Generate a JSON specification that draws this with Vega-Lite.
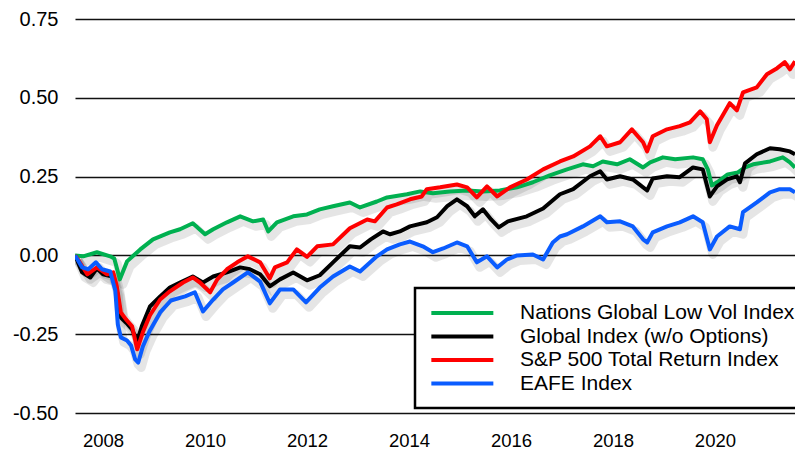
{
 "$schema": "https://vega.github.io/schema/vega-lite/v6.json",
 "width": 720, "height": 394,
 "autosize": {"type": "none"},
 "padding": {"left": 75, "top": 19, "right": 0, "bottom": 37},
 "background": "white",
 "config": {"view": {"stroke": null}, "font": "Liberation Sans"},
 "datasets": {
  "raw": [
   {"s":"Nations Global Low Vol Index","t":2007.45,"v":0},{"s":"Nations Global Low Vol Index","t":2007.61,"v":-0.003},{"s":"Nations Global Low Vol Index","t":2007.88,"v":0.010},{"s":"Nations Global Low Vol Index","t":2008.14,"v":-0.003},{"s":"Nations Global Low Vol Index","t":2008.22,"v":-0.010},{"s":"Nations Global Low Vol Index","t":2008.33,"v":-0.076},{"s":"Nations Global Low Vol Index","t":2008.47,"v":-0.019},{"s":"Nations Global Low Vol Index","t":2008.73,"v":0.019},{"s":"Nations Global Low Vol Index","t":2008.98,"v":0.051},{"s":"Nations Global Low Vol Index","t":2009.31,"v":0.073},{"s":"Nations Global Low Vol Index","t":2009.51,"v":0.083},{"s":"Nations Global Low Vol Index","t":2009.76,"v":0.102},{"s":"Nations Global Low Vol Index","t":2010.00,"v":0.067},{"s":"Nations Global Low Vol Index","t":2010.16,"v":0.083},{"s":"Nations Global Low Vol Index","t":2010.43,"v":0.105},{"s":"Nations Global Low Vol Index","t":2010.69,"v":0.124},{"s":"Nations Global Low Vol Index","t":2010.94,"v":0.108},{"s":"Nations Global Low Vol Index","t":2011.14,"v":0.114},{"s":"Nations Global Low Vol Index","t":2011.24,"v":0.076},{"s":"Nations Global Low Vol Index","t":2011.41,"v":0.105},{"s":"Nations Global Low Vol Index","t":2011.73,"v":0.124},{"s":"Nations Global Low Vol Index","t":2012.00,"v":0.130},{"s":"Nations Global Low Vol Index","t":2012.25,"v":0.146},{"s":"Nations Global Low Vol Index","t":2012.51,"v":0.156},{"s":"Nations Global Low Vol Index","t":2012.84,"v":0.168},{"s":"Nations Global Low Vol Index","t":2013.04,"v":0.152},{"s":"Nations Global Low Vol Index","t":2013.37,"v":0.171},{"s":"Nations Global Low Vol Index","t":2013.57,"v":0.184},{"s":"Nations Global Low Vol Index","t":2013.96,"v":0.194},{"s":"Nations Global Low Vol Index","t":2014.22,"v":0.203},{"s":"Nations Global Low Vol Index","t":2014.47,"v":0.197},{"s":"Nations Global Low Vol Index","t":2014.80,"v":0.203},{"s":"Nations Global Low Vol Index","t":2015.14,"v":0.206},{"s":"Nations Global Low Vol Index","t":2015.45,"v":0.203},{"s":"Nations Global Low Vol Index","t":2015.78,"v":0.206},{"s":"Nations Global Low Vol Index","t":2016.12,"v":0.216},{"s":"Nations Global Low Vol Index","t":2016.43,"v":0.232},{"s":"Nations Global Low Vol Index","t":2016.76,"v":0.254},{"s":"Nations Global Low Vol Index","t":2017.10,"v":0.273},{"s":"Nations Global Low Vol Index","t":2017.41,"v":0.289},{"s":"Nations Global Low Vol Index","t":2017.61,"v":0.283},{"s":"Nations Global Low Vol Index","t":2017.80,"v":0.298},{"s":"Nations Global Low Vol Index","t":2018.08,"v":0.289},{"s":"Nations Global Low Vol Index","t":2018.33,"v":0.305},{"s":"Nations Global Low Vol Index","t":2018.59,"v":0.279},{"s":"Nations Global Low Vol Index","t":2018.73,"v":0.295},{"s":"Nations Global Low Vol Index","t":2018.98,"v":0.311},{"s":"Nations Global Low Vol Index","t":2019.22,"v":0.305},{"s":"Nations Global Low Vol Index","t":2019.57,"v":0.311},{"s":"Nations Global Low Vol Index","t":2019.76,"v":0.305},{"s":"Nations Global Low Vol Index","t":2019.86,"v":0.273},{"s":"Nations Global Low Vol Index","t":2019.94,"v":0.222},{"s":"Nations Global Low Vol Index","t":2020.04,"v":0.232},{"s":"Nations Global Low Vol Index","t":2020.25,"v":0.257},{"s":"Nations Global Low Vol Index","t":2020.45,"v":0.263},{"s":"Nations Global Low Vol Index","t":2020.59,"v":0.279},{"s":"Nations Global Low Vol Index","t":2020.75,"v":0.289},{"s":"Nations Global Low Vol Index","t":2021.08,"v":0.298},{"s":"Nations Global Low Vol Index","t":2021.33,"v":0.311},{"s":"Nations Global Low Vol Index","t":2021.47,"v":0.295},{"s":"Nations Global Low Vol Index","t":2021.57,"v":0.279},
   {"s":"Global Index (w/o Options)","t":2007.45,"v":0},{"s":"Global Index (w/o Options)","t":2007.59,"v":-0.054},{"s":"Global Index (w/o Options)","t":2007.75,"v":-0.070},{"s":"Global Index (w/o Options)","t":2007.88,"v":-0.041},{"s":"Global Index (w/o Options)","t":2008.00,"v":-0.060},{"s":"Global Index (w/o Options)","t":2008.18,"v":-0.067},{"s":"Global Index (w/o Options)","t":2008.27,"v":-0.111},{"s":"Global Index (w/o Options)","t":2008.35,"v":-0.197},{"s":"Global Index (w/o Options)","t":2008.45,"v":-0.213},{"s":"Global Index (w/o Options)","t":2008.57,"v":-0.235},{"s":"Global Index (w/o Options)","t":2008.67,"v":-0.273},{"s":"Global Index (w/o Options)","t":2008.76,"v":-0.225},{"s":"Global Index (w/o Options)","t":2008.92,"v":-0.162},{"s":"Global Index (w/o Options)","t":2009.12,"v":-0.130},{"s":"Global Index (w/o Options)","t":2009.31,"v":-0.102},{"s":"Global Index (w/o Options)","t":2009.51,"v":-0.086},{"s":"Global Index (w/o Options)","t":2009.76,"v":-0.067},{"s":"Global Index (w/o Options)","t":2009.96,"v":-0.086},{"s":"Global Index (w/o Options)","t":2010.16,"v":-0.067},{"s":"Global Index (w/o Options)","t":2010.43,"v":-0.054},{"s":"Global Index (w/o Options)","t":2010.69,"v":-0.038},{"s":"Global Index (w/o Options)","t":2010.88,"v":-0.044},{"s":"Global Index (w/o Options)","t":2011.08,"v":-0.060},{"s":"Global Index (w/o Options)","t":2011.27,"v":-0.098},{"s":"Global Index (w/o Options)","t":2011.47,"v":-0.076},{"s":"Global Index (w/o Options)","t":2011.73,"v":-0.054},{"s":"Global Index (w/o Options)","t":2012.00,"v":-0.079},{"s":"Global Index (w/o Options)","t":2012.25,"v":-0.063},{"s":"Global Index (w/o Options)","t":2012.51,"v":-0.022},{"s":"Global Index (w/o Options)","t":2012.84,"v":0.029},{"s":"Global Index (w/o Options)","t":2013.04,"v":0.025},{"s":"Global Index (w/o Options)","t":2013.25,"v":0.051},{"s":"Global Index (w/o Options)","t":2013.49,"v":0.076},{"s":"Global Index (w/o Options)","t":2013.63,"v":0.067},{"s":"Global Index (w/o Options)","t":2013.82,"v":0.076},{"s":"Global Index (w/o Options)","t":2014.02,"v":0.092},{"s":"Global Index (w/o Options)","t":2014.35,"v":0.105},{"s":"Global Index (w/o Options)","t":2014.55,"v":0.121},{"s":"Global Index (w/o Options)","t":2014.75,"v":0.156},{"s":"Global Index (w/o Options)","t":2014.94,"v":0.178},{"s":"Global Index (w/o Options)","t":2015.14,"v":0.156},{"s":"Global Index (w/o Options)","t":2015.29,"v":0.124},{"s":"Global Index (w/o Options)","t":2015.45,"v":0.146},{"s":"Global Index (w/o Options)","t":2015.61,"v":0.114},{"s":"Global Index (w/o Options)","t":2015.76,"v":0.089},{"s":"Global Index (w/o Options)","t":2015.94,"v":0.108},{"s":"Global Index (w/o Options)","t":2016.31,"v":0.124},{"s":"Global Index (w/o Options)","t":2016.63,"v":0.149},{"s":"Global Index (w/o Options)","t":2016.96,"v":0.194},{"s":"Global Index (w/o Options)","t":2017.22,"v":0.210},{"s":"Global Index (w/o Options)","t":2017.55,"v":0.251},{"s":"Global Index (w/o Options)","t":2017.75,"v":0.267},{"s":"Global Index (w/o Options)","t":2017.88,"v":0.241},{"s":"Global Index (w/o Options)","t":2018.14,"v":0.251},{"s":"Global Index (w/o Options)","t":2018.39,"v":0.241},{"s":"Global Index (w/o Options)","t":2018.67,"v":0.206},{"s":"Global Index (w/o Options)","t":2018.78,"v":0.244},{"s":"Global Index (w/o Options)","t":2019.06,"v":0.251},{"s":"Global Index (w/o Options)","t":2019.31,"v":0.248},{"s":"Global Index (w/o Options)","t":2019.57,"v":0.279},{"s":"Global Index (w/o Options)","t":2019.76,"v":0.273},{"s":"Global Index (w/o Options)","t":2019.90,"v":0.187},{"s":"Global Index (w/o Options)","t":2020.04,"v":0.219},{"s":"Global Index (w/o Options)","t":2020.24,"v":0.241},{"s":"Global Index (w/o Options)","t":2020.43,"v":0.251},{"s":"Global Index (w/o Options)","t":2020.49,"v":0.232},{"s":"Global Index (w/o Options)","t":2020.59,"v":0.292},{"s":"Global Index (w/o Options)","t":2020.82,"v":0.321},{"s":"Global Index (w/o Options)","t":2021.08,"v":0.340},{"s":"Global Index (w/o Options)","t":2021.27,"v":0.337},{"s":"Global Index (w/o Options)","t":2021.47,"v":0.330},{"s":"Global Index (w/o Options)","t":2021.57,"v":0.321},
   {"s":"S&P 500 Total Return Index","t":2007.45,"v":0},{"s":"S&P 500 Total Return Index","t":2007.51,"v":-0.013},{"s":"S&P 500 Total Return Index","t":2007.69,"v":-0.060},{"s":"S&P 500 Total Return Index","t":2007.88,"v":-0.038},{"s":"S&P 500 Total Return Index","t":2008.08,"v":-0.060},{"s":"S&P 500 Total Return Index","t":2008.20,"v":-0.054},{"s":"S&P 500 Total Return Index","t":2008.27,"v":-0.098},{"s":"S&P 500 Total Return Index","t":2008.35,"v":-0.181},{"s":"S&P 500 Total Return Index","t":2008.45,"v":-0.203},{"s":"S&P 500 Total Return Index","t":2008.57,"v":-0.225},{"s":"S&P 500 Total Return Index","t":2008.67,"v":-0.298},{"s":"S&P 500 Total Return Index","t":2008.78,"v":-0.244},{"s":"S&P 500 Total Return Index","t":2008.92,"v":-0.190},{"s":"S&P 500 Total Return Index","t":2009.12,"v":-0.140},{"s":"S&P 500 Total Return Index","t":2009.31,"v":-0.114},{"s":"S&P 500 Total Return Index","t":2009.57,"v":-0.086},{"s":"S&P 500 Total Return Index","t":2009.76,"v":-0.070},{"s":"S&P 500 Total Return Index","t":2009.90,"v":-0.086},{"s":"S&P 500 Total Return Index","t":2010.10,"v":-0.117},{"s":"S&P 500 Total Return Index","t":2010.24,"v":-0.076},{"s":"S&P 500 Total Return Index","t":2010.43,"v":-0.044},{"s":"S&P 500 Total Return Index","t":2010.63,"v":-0.022},{"s":"S&P 500 Total Return Index","t":2010.84,"v":-0.003},{"s":"S&P 500 Total Return Index","t":2011.08,"v":-0.022},{"s":"S&P 500 Total Return Index","t":2011.27,"v":-0.073},{"s":"S&P 500 Total Return Index","t":2011.37,"v":-0.038},{"s":"S&P 500 Total Return Index","t":2011.61,"v":-0.022},{"s":"S&P 500 Total Return Index","t":2011.80,"v":0.019},{"s":"S&P 500 Total Return Index","t":2012.00,"v":-0.005},{"s":"S&P 500 Total Return Index","t":2012.20,"v":0.029},{"s":"S&P 500 Total Return Index","t":2012.51,"v":0.035},{"s":"S&P 500 Total Return Index","t":2012.84,"v":0.086},{"s":"S&P 500 Total Return Index","t":2013.18,"v":0.114},{"s":"S&P 500 Total Return Index","t":2013.33,"v":0.108},{"s":"S&P 500 Total Return Index","t":2013.57,"v":0.152},{"s":"S&P 500 Total Return Index","t":2013.76,"v":0.162},{"s":"S&P 500 Total Return Index","t":2014.02,"v":0.178},{"s":"S&P 500 Total Return Index","t":2014.25,"v":0.187},{"s":"S&P 500 Total Return Index","t":2014.35,"v":0.210},{"s":"S&P 500 Total Return Index","t":2014.61,"v":0.216},{"s":"S&P 500 Total Return Index","t":2014.94,"v":0.225},{"s":"S&P 500 Total Return Index","t":2015.14,"v":0.216},{"s":"S&P 500 Total Return Index","t":2015.33,"v":0.184},{"s":"S&P 500 Total Return Index","t":2015.53,"v":0.219},{"s":"S&P 500 Total Return Index","t":2015.73,"v":0.187},{"s":"S&P 500 Total Return Index","t":2015.98,"v":0.216},{"s":"S&P 500 Total Return Index","t":2016.31,"v":0.241},{"s":"S&P 500 Total Return Index","t":2016.63,"v":0.273},{"s":"S&P 500 Total Return Index","t":2016.96,"v":0.298},{"s":"S&P 500 Total Return Index","t":2017.22,"v":0.314},{"s":"S&P 500 Total Return Index","t":2017.55,"v":0.346},{"s":"S&P 500 Total Return Index","t":2017.75,"v":0.378},{"s":"S&P 500 Total Return Index","t":2017.88,"v":0.346},{"s":"S&P 500 Total Return Index","t":2018.14,"v":0.359},{"s":"S&P 500 Total Return Index","t":2018.37,"v":0.400},{"s":"S&P 500 Total Return Index","t":2018.59,"v":0.359},{"s":"S&P 500 Total Return Index","t":2018.67,"v":0.330},{"s":"S&P 500 Total Return Index","t":2018.78,"v":0.378},{"s":"S&P 500 Total Return Index","t":2019.06,"v":0.400},{"s":"S&P 500 Total Return Index","t":2019.31,"v":0.410},{"s":"S&P 500 Total Return Index","t":2019.51,"v":0.422},{"s":"S&P 500 Total Return Index","t":2019.71,"v":0.457},{"s":"S&P 500 Total Return Index","t":2019.84,"v":0.432},{"s":"S&P 500 Total Return Index","t":2019.90,"v":0.359},{"s":"S&P 500 Total Return Index","t":2020.04,"v":0.413},{"s":"S&P 500 Total Return Index","t":2020.29,"v":0.483},{"s":"S&P 500 Total Return Index","t":2020.43,"v":0.460},{"s":"S&P 500 Total Return Index","t":2020.55,"v":0.517},{"s":"S&P 500 Total Return Index","t":2020.82,"v":0.533},{"s":"S&P 500 Total Return Index","t":2021.02,"v":0.575},{"s":"S&P 500 Total Return Index","t":2021.22,"v":0.594},{"s":"S&P 500 Total Return Index","t":2021.37,"v":0.613},{"s":"S&P 500 Total Return Index","t":2021.47,"v":0.590},{"s":"S&P 500 Total Return Index","t":2021.57,"v":0.616},
   {"s":"EAFE Index","t":2007.45,"v":0},{"s":"EAFE Index","t":2007.59,"v":-0.038},{"s":"EAFE Index","t":2007.71,"v":-0.044},{"s":"EAFE Index","t":2007.86,"v":-0.022},{"s":"EAFE Index","t":2007.98,"v":-0.044},{"s":"EAFE Index","t":2008.14,"v":-0.051},{"s":"EAFE Index","t":2008.24,"v":-0.111},{"s":"EAFE Index","t":2008.29,"v":-0.219},{"s":"EAFE Index","t":2008.35,"v":-0.260},{"s":"EAFE Index","t":2008.47,"v":-0.270},{"s":"EAFE Index","t":2008.55,"v":-0.286},{"s":"EAFE Index","t":2008.63,"v":-0.330},{"s":"EAFE Index","t":2008.69,"v":-0.340},{"s":"EAFE Index","t":2008.78,"v":-0.289},{"s":"EAFE Index","t":2008.92,"v":-0.238},{"s":"EAFE Index","t":2009.12,"v":-0.181},{"s":"EAFE Index","t":2009.33,"v":-0.143},{"s":"EAFE Index","t":2009.61,"v":-0.130},{"s":"EAFE Index","t":2009.80,"v":-0.117},{"s":"EAFE Index","t":2009.96,"v":-0.178},{"s":"EAFE Index","t":2010.16,"v":-0.140},{"s":"EAFE Index","t":2010.35,"v":-0.108},{"s":"EAFE Index","t":2010.55,"v":-0.086},{"s":"EAFE Index","t":2010.84,"v":-0.054},{"s":"EAFE Index","t":2011.08,"v":-0.083},{"s":"EAFE Index","t":2011.27,"v":-0.152},{"s":"EAFE Index","t":2011.47,"v":-0.108},{"s":"EAFE Index","t":2011.73,"v":-0.108},{"s":"EAFE Index","t":2011.98,"v":-0.149},{"s":"EAFE Index","t":2012.25,"v":-0.102},{"s":"EAFE Index","t":2012.51,"v":-0.067},{"s":"EAFE Index","t":2012.84,"v":-0.035},{"s":"EAFE Index","t":2013.04,"v":-0.051},{"s":"EAFE Index","t":2013.37,"v":-0.003},{"s":"EAFE Index","t":2013.57,"v":0.019},{"s":"EAFE Index","t":2013.82,"v":0.035},{"s":"EAFE Index","t":2014.02,"v":0.044},{"s":"EAFE Index","t":2014.27,"v":0.029},{"s":"EAFE Index","t":2014.47,"v":0.010},{"s":"EAFE Index","t":2014.67,"v":0.022},{"s":"EAFE Index","t":2014.94,"v":0.041},{"s":"EAFE Index","t":2015.14,"v":0.029},{"s":"EAFE Index","t":2015.33,"v":-0.022},{"s":"EAFE Index","t":2015.53,"v":-0.003},{"s":"EAFE Index","t":2015.73,"v":-0.038},{"s":"EAFE Index","t":2015.92,"v":-0.013},{"s":"EAFE Index","t":2016.12,"v":0.000},{"s":"EAFE Index","t":2016.43,"v":0.003},{"s":"EAFE Index","t":2016.63,"v":-0.013},{"s":"EAFE Index","t":2016.82,"v":0.041},{"s":"EAFE Index","t":2016.96,"v":0.060},{"s":"EAFE Index","t":2017.10,"v":0.067},{"s":"EAFE Index","t":2017.41,"v":0.092},{"s":"EAFE Index","t":2017.75,"v":0.124},{"s":"EAFE Index","t":2017.88,"v":0.105},{"s":"EAFE Index","t":2018.14,"v":0.108},{"s":"EAFE Index","t":2018.39,"v":0.092},{"s":"EAFE Index","t":2018.59,"v":0.051},{"s":"EAFE Index","t":2018.67,"v":0.041},{"s":"EAFE Index","t":2018.78,"v":0.073},{"s":"EAFE Index","t":2019.06,"v":0.092},{"s":"EAFE Index","t":2019.31,"v":0.105},{"s":"EAFE Index","t":2019.57,"v":0.124},{"s":"EAFE Index","t":2019.76,"v":0.105},{"s":"EAFE Index","t":2019.90,"v":0.019},{"s":"EAFE Index","t":2020.04,"v":0.060},{"s":"EAFE Index","t":2020.29,"v":0.092},{"s":"EAFE Index","t":2020.49,"v":0.083},{"s":"EAFE Index","t":2020.55,"v":0.137},{"s":"EAFE Index","t":2020.82,"v":0.168},{"s":"EAFE Index","t":2021.08,"v":0.200},{"s":"EAFE Index","t":2021.27,"v":0.210},{"s":"EAFE Index","t":2021.47,"v":0.210},{"s":"EAFE Index","t":2021.57,"v":0.200}
  ]
 },
 "data": {"name": "raw"},
 "encoding": {
  "x": {"field": "t", "type": "quantitative",
        "scale": {"domain": [2007.45, 2021.57], "nice": false, "zero": false},
        "axis": {"values": [2008, 2010, 2012, 2014, 2016, 2018, 2020], "format": "d", "title": null, "grid": false, "ticks": false, "tickSize": 0, "domain": false, "labelFontSize": 18.5, "labelColor": "#000", "labelPadding": 18, "labelFlush": false}},
  "y": {"field": "v", "type": "quantitative",
        "scale": {"domain": [-0.5, 0.75], "nice": false, "zero": false},
        "axis": {"values": [-0.5, -0.25, 0, 0.25, 0.5, 0.75], "labelExpr": "datum.value < 0 ? '-' + format(-datum.value, '.2f') : format(datum.value, '.2f')", "title": null, "grid": true, "gridColor": "#111", "gridWidth": 1.5, "gridOpacity": 1, "ticks": false, "tickSize": 0, "domain": false, "labelFontSize": 20, "labelColor": "#000", "labelPadding": 17}}
 },
 "layer": [
  {"mark": {"type": "line", "color": "#000", "opacity": 0.1, "strokeWidth": 9, "xOffset": 3, "yOffset": 5, "clip": true, "strokeJoin": "round"},
   "encoding": {"detail": {"field": "s"}}},
  {"mark": {"type": "line", "strokeWidth": 4, "clip": true, "strokeJoin": "round"},
   "encoding": {"color": {"field": "s", "type": "nominal",
     "scale": {"domain": ["Nations Global Low Vol Index", "Global Index (w/o Options)", "S&P 500 Total Return Index", "EAFE Index"], "range": ["#00b050", "#000000", "#ff0000", "#0a5cff"]},
     "sort": null,
     "legend": {"orient": "none", "legendX": 340, "legendY": 269, "title": null, "symbolType": "M-1,0H6.16", "symbolSize": 300, "symbolStrokeWidth": 4, "labelFontSize": 21, "labelOffset": 69, "rowPadding": 2.5, "padding": 14, "strokeColor": "#000", "fillColor": "#fff", "labelLimit": 400, "labelColor": "#000", "cornerRadius": 0,
       "encode": {"legend": {"update": {"strokeWidth": {"value": 2.5}}}}}}}}
 ]
}
